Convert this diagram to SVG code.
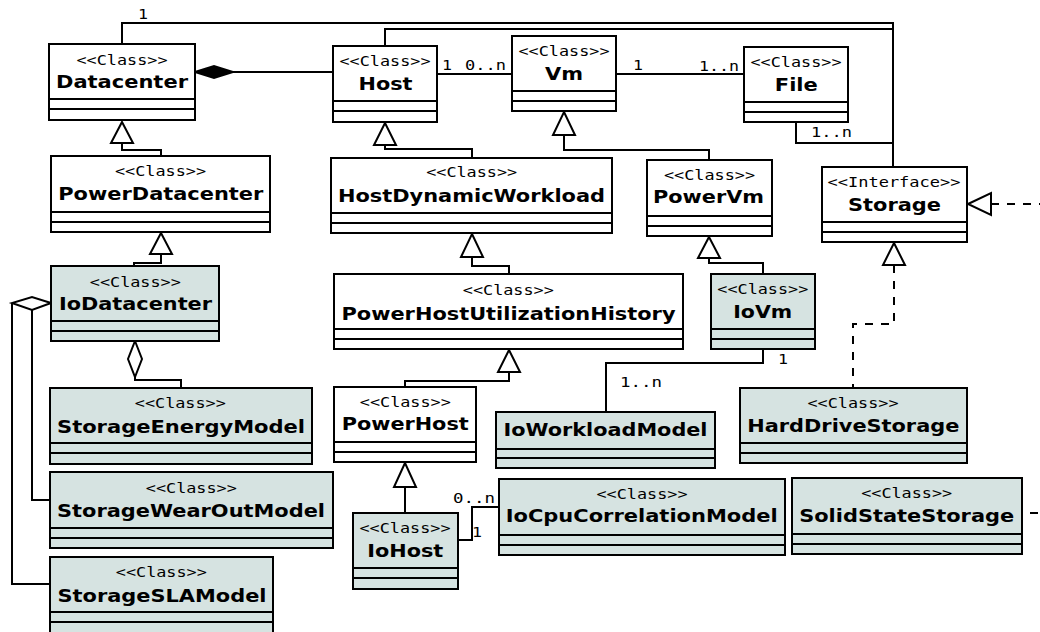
<svg xmlns="http://www.w3.org/2000/svg" width="1040" height="632" viewBox="0 0 1040 632">
<defs>
<style>
.box{fill:#ffffff;stroke:#000;stroke-width:2}
.io .box{fill:#d6e3e1}
.div{stroke:#000;stroke-width:2;fill:none}
.st{font-family:"DejaVu Sans Mono","Liberation Mono",monospace;font-size:14.5px;fill:#000;text-anchor:middle}
.nm{font-family:"DejaVu Sans","Liberation Sans",sans-serif;font-weight:bold;font-size:18px;fill:#000;text-anchor:middle}
.lb{font-family:"DejaVu Sans Mono","Liberation Mono",monospace;font-size:14.5px;fill:#000}
.ln{stroke:#000;stroke-width:2;fill:none}
.dash{stroke:#000;stroke-width:2;fill:none;stroke-dasharray:8 8}
.tri{fill:#fff;stroke:#000;stroke-width:2}
.dia{fill:#000;stroke:#000;stroke-width:2}
.hdia{fill:#fff;stroke:#000;stroke-width:2}
</style>
</defs>
<rect x="0" y="0" width="1040" height="632" fill="#ffffff"/>

<g id="connectors">
<polyline class="ln" points="122,44 122,23 893,23 893,167"/>
<polyline class="ln" points="385,46 385,29 893,29"/>
<line class="ln" x1="233" y1="72" x2="333" y2="72"/>
<polygon class="dia" points="195,72 214,66 233,72 214,78"/>
<line class="ln" x1="437" y1="74" x2="512" y2="74"/>
<line class="ln" x1="616" y1="74" x2="744" y2="74"/>
<polyline class="ln" points="796,122 796,143 893,143"/>

<polyline class="ln" points="122,143 122,150 161,150 161,156"/>
<polygon class="tri" points="122,122 133,143 111,143"/>
<polyline class="ln" points="385,145 385,149 472,149 472,158"/>
<polygon class="tri" points="385,123 396,145 374,145"/>
<polyline class="ln" points="564,135 564,150 709,150 709,160"/>
<polygon class="tri" points="564,112 575,135 553,135"/>
<polyline class="ln" points="161,254 161,263 134,263 134,266"/>
<polygon class="tri" points="161,233 172,254 150,254"/>
<polyline class="ln" points="472,257 472,266 509,266 509,274"/>
<polygon class="tri" points="472,234 483,257 461,257"/>
<polyline class="ln" points="709,258 709,263 763,263 763,274"/>
<polygon class="tri" points="709,237 720,258 698,258"/>
<polyline class="ln" points="509,372 509,381 405,381 405,387"/>
<polygon class="tri" points="509,350 520,372 498,372"/>
<line class="ln" x1="405" y1="487" x2="405" y2="513"/>
<polygon class="tri" points="405,463 416,487 394,487"/>

<polyline class="dash" points="894,265 894,324 853,324 853,388"/>
<polygon class="tri" points="894,243 905,265 883,265"/>
<polyline class="dash" style="stroke-dashoffset:8" points="1022,513 1060,513 1060,204 992,204"/>
<polygon class="tri" points="968,204 991,193 991,215"/>

<polyline class="ln" points="12,303 12,584 50,584"/>
<polyline class="ln" points="32,310 32,500 50,500"/>
<polygon class="hdia" points="51,303 32,297 12,303 32,310"/>
<polyline class="ln" points="135,377 135,380 181,380 181,388"/>
<polygon class="hdia" points="135,341 142,359 135,377 128,359"/>

<polyline class="ln" points="763,349 763,363 606,363 606,412"/>
<polyline class="ln" points="458,540 472,540 472,507 499,507"/>

<text class="lb" x="138" y="19" textLength="10" lengthAdjust="spacingAndGlyphs">1</text>
<text class="lb" x="442" y="70" textLength="10" lengthAdjust="spacingAndGlyphs">1</text>
<text class="lb" x="465" y="70" textLength="41" lengthAdjust="spacingAndGlyphs">0..n</text>
<text class="lb" x="633" y="70" textLength="10" lengthAdjust="spacingAndGlyphs">1</text>
<text class="lb" x="699" y="70.5" textLength="40" lengthAdjust="spacingAndGlyphs">1..n</text>
<text class="lb" x="811" y="137" textLength="41" lengthAdjust="spacingAndGlyphs">1..n</text>
<text class="lb" x="620" y="387" textLength="42" lengthAdjust="spacingAndGlyphs">1..n</text>
<text class="lb" x="778" y="364" textLength="10" lengthAdjust="spacingAndGlyphs">1</text>
<text class="lb" x="453" y="503" textLength="42" lengthAdjust="spacingAndGlyphs">0..n</text>
<text class="lb" x="472" y="537" textLength="10" lengthAdjust="spacingAndGlyphs">1</text>
</g>

<g id="Datacenter">
<rect class="box" x="49" y="44" width="146" height="76"/>
<path class="div" d="M49,99H195M49,109H195"/>
<text class="st" x="122" y="65" textLength="91" lengthAdjust="spacingAndGlyphs">&lt;&lt;Class&gt;&gt;</text>
<text class="nm" x="122" y="88" textLength="132" lengthAdjust="spacingAndGlyphs">Datacenter</text>
</g>

<g id="Host">
<rect class="box" x="333" y="46" width="104" height="76"/>
<path class="div" d="M333,101H437M333,111H437"/>
<text class="st" x="385" y="66" textLength="91" lengthAdjust="spacingAndGlyphs">&lt;&lt;Class&gt;&gt;</text>
<text class="nm" x="385.5" y="90" textLength="54" lengthAdjust="spacingAndGlyphs">Host</text>
</g>

<g id="Vm">
<rect class="box" x="512" y="36" width="104" height="75"/>
<path class="div" d="M512,91H616M512,101H616"/>
<text class="st" x="564" y="56" textLength="91" lengthAdjust="spacingAndGlyphs">&lt;&lt;Class&gt;&gt;</text>
<text class="nm" x="564" y="80" textLength="38" lengthAdjust="spacingAndGlyphs">Vm</text>
</g>

<g id="File">
<rect class="box" x="744" y="47" width="104" height="75"/>
<path class="div" d="M744,102H848M744,112H848"/>
<text class="st" x="796" y="67" textLength="91" lengthAdjust="spacingAndGlyphs">&lt;&lt;Class&gt;&gt;</text>
<text class="nm" x="796.3" y="91" textLength="43" lengthAdjust="spacingAndGlyphs">File</text>
</g>

<g id="PowerDatacenter">
<rect class="box" x="51" y="156" width="219" height="76"/>
<path class="div" d="M51,212H270M51,222H270"/>
<text class="st" x="160.5" y="176" textLength="91" lengthAdjust="spacingAndGlyphs">&lt;&lt;Class&gt;&gt;</text>
<text class="nm" x="160.8" y="200" textLength="205" lengthAdjust="spacingAndGlyphs">PowerDatacenter</text>
</g>

<g id="HostDynamicWorkload">
<rect class="box" x="331" y="158" width="281" height="75"/>
<path class="div" d="M331,213H612M331,223H612"/>
<text class="st" x="471.7" y="177" textLength="91" lengthAdjust="spacingAndGlyphs">&lt;&lt;Class&gt;&gt;</text>
<text class="nm" x="471.5" y="202" textLength="267" lengthAdjust="spacingAndGlyphs">HostDynamicWorkload</text>
</g>

<g id="PowerVm">
<rect class="box" x="647" y="160" width="125" height="76"/>
<path class="div" d="M647,216H772M647,226H772"/>
<text class="st" x="709.5" y="180" textLength="91" lengthAdjust="spacingAndGlyphs">&lt;&lt;Class&gt;&gt;</text>
<text class="nm" x="708.5" y="203" textLength="111" lengthAdjust="spacingAndGlyphs">PowerVm</text>
</g>

<g id="Storage">
<rect class="box" x="822" y="167" width="145" height="75"/>
<path class="div" d="M822,222H967M822,232H967"/>
<text class="st" x="894" y="187" textLength="133" lengthAdjust="spacingAndGlyphs">&lt;&lt;Interface&gt;&gt;</text>
<text class="nm" x="894.5" y="211" textLength="93" lengthAdjust="spacingAndGlyphs">Storage</text>
</g>

<g id="IoDatacenter" class="io">
<rect class="box" x="51" y="266" width="168" height="75"/>
<path class="div" d="M51,321H219M51,331H219"/>
<text class="st" x="135.3" y="287" textLength="91" lengthAdjust="spacingAndGlyphs">&lt;&lt;Class&gt;&gt;</text>
<text class="nm" x="135.5" y="310" textLength="153" lengthAdjust="spacingAndGlyphs">IoDatacenter</text>
</g>

<g id="PowerHostUtilizationHistory">
<rect class="box" x="334" y="274" width="349" height="75"/>
<path class="div" d="M334,329H683M334,339H683"/>
<text class="st" x="508.3" y="295" textLength="91" lengthAdjust="spacingAndGlyphs">&lt;&lt;Class&gt;&gt;</text>
<text class="nm" x="508.5" y="320" textLength="334" lengthAdjust="spacingAndGlyphs">PowerHostUtilizationHistory</text>
</g>

<g id="IoVm" class="io">
<rect class="box" x="711" y="274" width="104" height="75"/>
<path class="div" d="M711,329H815M711,339H815"/>
<text class="st" x="762.8" y="294" textLength="91" lengthAdjust="spacingAndGlyphs">&lt;&lt;Class&gt;&gt;</text>
<text class="nm" x="762.7" y="318" textLength="59" lengthAdjust="spacingAndGlyphs">IoVm</text>
</g>

<g id="StorageEnergyModel" class="io">
<rect class="box" x="50" y="388" width="262" height="76"/>
<path class="div" d="M50,443H312M50,453H312"/>
<text class="st" x="180.3" y="408" textLength="91" lengthAdjust="spacingAndGlyphs">&lt;&lt;Class&gt;&gt;</text>
<text class="nm" x="181" y="433" textLength="248" lengthAdjust="spacingAndGlyphs">StorageEnergyModel</text>
</g>

<g id="PowerHost">
<rect class="box" x="334" y="387" width="142" height="75"/>
<path class="div" d="M334,442H476M334,452H476"/>
<text class="st" x="405.3" y="407" textLength="91" lengthAdjust="spacingAndGlyphs">&lt;&lt;Class&gt;&gt;</text>
<text class="nm" x="405.2" y="430" textLength="127" lengthAdjust="spacingAndGlyphs">PowerHost</text>
</g>

<g id="IoWorkloadModel" class="io">
<rect class="box" x="496" y="412" width="219" height="56"/>
<path class="div" d="M496,449H715M496,458H715"/>
<text class="nm" x="605.5" y="435.5" textLength="204" lengthAdjust="spacingAndGlyphs">IoWorkloadModel</text>
</g>

<g id="HardDriveStorage" class="io">
<rect class="box" x="740" y="388" width="227" height="75"/>
<path class="div" d="M740,443H967M740,453H967"/>
<text class="st" x="853" y="408" textLength="91" lengthAdjust="spacingAndGlyphs">&lt;&lt;Class&gt;&gt;</text>
<text class="nm" x="853.3" y="432" textLength="212" lengthAdjust="spacingAndGlyphs">HardDriveStorage</text>
</g>

<g id="StorageWearOutModel" class="io">
<rect class="box" x="50" y="472" width="283" height="76"/>
<path class="div" d="M50,528H333M50,538H333"/>
<text class="st" x="191.3" y="493" textLength="91" lengthAdjust="spacingAndGlyphs">&lt;&lt;Class&gt;&gt;</text>
<text class="nm" x="191" y="517" textLength="268" lengthAdjust="spacingAndGlyphs">StorageWearOutModel</text>
</g>

<g id="IoCpuCorrelationModel" class="io">
<rect class="box" x="499" y="479" width="286" height="76"/>
<path class="div" d="M499,535H785M499,545H785"/>
<text class="st" x="642" y="499" textLength="91" lengthAdjust="spacingAndGlyphs">&lt;&lt;Class&gt;&gt;</text>
<text class="nm" x="641.7" y="522" textLength="272" lengthAdjust="spacingAndGlyphs">IoCpuCorrelationModel</text>
</g>

<g id="SolidStateStorage" class="io">
<rect class="box" x="792" y="478" width="230" height="76"/>
<path class="div" d="M792,534H1022M792,544H1022"/>
<text class="st" x="906.7" y="498" textLength="91" lengthAdjust="spacingAndGlyphs">&lt;&lt;Class&gt;&gt;</text>
<text class="nm" x="906.7" y="522" textLength="215" lengthAdjust="spacingAndGlyphs">SolidStateStorage</text>
</g>

<g id="IoHost" class="io">
<rect class="box" x="353" y="513" width="105" height="76"/>
<path class="div" d="M353,568H458M353,578H458"/>
<text class="st" x="405" y="533" textLength="91" lengthAdjust="spacingAndGlyphs">&lt;&lt;Class&gt;&gt;</text>
<text class="nm" x="405.3" y="557" textLength="76" lengthAdjust="spacingAndGlyphs">IoHost</text>
</g>

<g id="StorageSLAModel" class="io">
<rect class="box" x="50" y="557" width="223" height="77"/>
<path class="div" d="M50,612H273M50,622H273"/>
<text class="st" x="161.3" y="577" textLength="91" lengthAdjust="spacingAndGlyphs">&lt;&lt;Class&gt;&gt;</text>
<text class="nm" x="162" y="602" textLength="209" lengthAdjust="spacingAndGlyphs">StorageSLAModel</text>
</g>
</svg>
